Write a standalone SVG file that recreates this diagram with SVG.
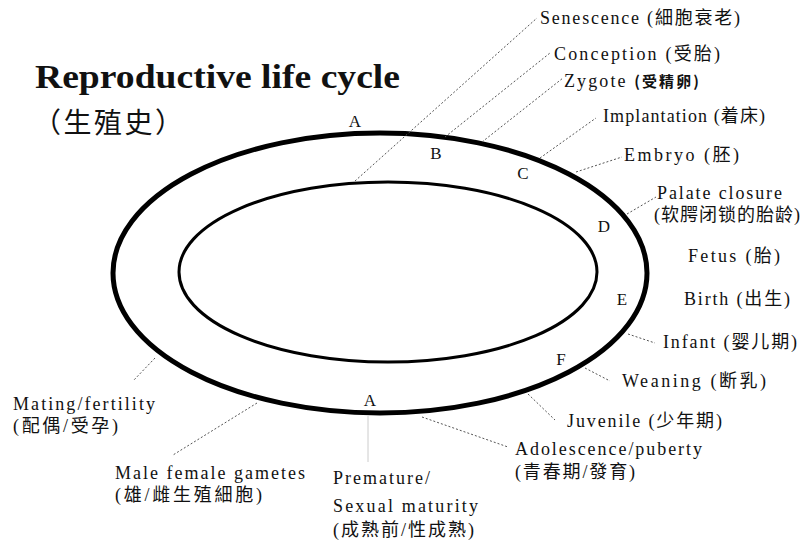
<svg xmlns="http://www.w3.org/2000/svg" width="808" height="542" viewBox="0 0 808 542">
<style>
.lbl{font-family:"Liberation Serif","Noto Sans CJK SC",serif;font-size:18px;fill:#111}
.ltr{font-family:"Liberation Serif",serif;font-size:17px;fill:#111;text-anchor:middle}
.ring{fill:none;stroke:#000}
.lead{stroke:#555;stroke-width:1;stroke-dasharray:2 2;fill:none}
.cjkb{font-family:"Noto Sans CJK SC",sans-serif;font-weight:bold}
</style>
<rect width="808" height="542" fill="#fff"/>
<g id="title">
<text x="35" y="88" font-family="Liberation Serif,serif" font-weight="bold" font-size="33" textLength="365" lengthAdjust="spacingAndGlyphs" fill="#111">Reproductive life cycle</text>
<text x="33" y="133" font-family="Noto Sans CJK SC,sans-serif" font-size="28" textLength="150" lengthAdjust="spacing" fill="#111">（生殖史）</text>
</g>
<g id="cycle">
<ellipse class="ring" cx="380" cy="273" rx="267" ry="140" stroke-width="5"/>
<ellipse class="ring" cx="388" cy="272" rx="209" ry="90" stroke-width="3"/>
<text class="ltr" x="355" y="127">A</text>
<text class="ltr" x="436" y="159">B</text>
<text class="ltr" x="523" y="179">C</text>
<text class="ltr" x="604" y="232">D</text>
<text class="ltr" x="622" y="305">E</text>
<text class="ltr" x="561" y="365">F</text>
<text class="ltr" x="370" y="406">A</text>
</g>
<g id="connectors">
<line class="lead" x1="355" y1="181" x2="537" y2="18"/>
<line class="lead" x1="445" y1="137" x2="550" y2="53"/>
<line class="lead" x1="482" y1="142" x2="563" y2="78"/>
<line class="lead" x1="540" y1="158" x2="596" y2="118"/>
<line class="lead" x1="576" y1="172" x2="622" y2="157"/>
<line class="lead" x1="627" y1="214" x2="656" y2="197"/>
<line class="lead" x1="628" y1="334" x2="655" y2="343"/>
<line class="lead" x1="585" y1="368" x2="610" y2="381"/>
<line class="lead" x1="528" y1="394" x2="555" y2="420"/>
<line class="lead" x1="422" y1="417" x2="508" y2="447"/>
<line x1="368" y1="416" x2="368" y2="462" stroke="#ccc" stroke-width="1"/>
<line class="lead" x1="257" y1="403" x2="173" y2="455"/>
<line class="lead" x1="155" y1="358" x2="133" y2="381"/>
</g>
<g id="senescence"><text class="lbl" x="540" y="24" textLength="200" lengthAdjust="spacing">Senescence (細胞衰老)</text></g>
<g id="conception"><text class="lbl" x="554" y="60" textLength="166" lengthAdjust="spacing">Conception (受胎)</text></g>
<g id="zygote"><text class="lbl" x="564" y="87" textLength="135" lengthAdjust="spacing">Zygote <tspan class="cjkb" font-size="15">(受精卵)</tspan></text></g>
<g id="implantation"><text class="lbl" x="603" y="122" textLength="162" lengthAdjust="spacing">Implantation (着床)</text></g>
<g id="embryo"><text class="lbl" x="624" y="161" textLength="115" lengthAdjust="spacing">Embryo (胚)</text></g>
<g id="palate"><text class="lbl" x="657" y="199" textLength="125" lengthAdjust="spacing">Palate closure</text>
<text class="lbl" x="654" y="221" textLength="146" lengthAdjust="spacing">(软腭闭锁的胎龄)</text></g>
<g id="fetus"><text class="lbl" x="688" y="262" textLength="92" lengthAdjust="spacing">Fetus (胎)</text></g>
<g id="birth"><text class="lbl" x="684" y="305" textLength="106" lengthAdjust="spacing">Birth (出生)</text></g>
<g id="infant"><text class="lbl" x="663" y="348" textLength="134" lengthAdjust="spacing">Infant (婴儿期)</text></g>
<g id="weaning"><text class="lbl" x="622" y="387" textLength="144" lengthAdjust="spacing">Weaning (断乳)</text></g>
<g id="juvenile"><text class="lbl" x="567" y="427" textLength="155" lengthAdjust="spacing">Juvenile (少年期)</text></g>
<g id="adolescence"><text class="lbl" x="515" y="455" textLength="187" lengthAdjust="spacing">Adolescence/puberty</text>
<text class="lbl" x="515" y="478" textLength="120" lengthAdjust="spacing">(青春期/發育)</text></g>
<g id="maturity"><text class="lbl" x="333" y="484" textLength="97" lengthAdjust="spacing">Premature/</text>
<text class="lbl" x="333" y="512" textLength="145" lengthAdjust="spacing">Sexual maturity</text>
<text class="lbl" x="333" y="536" textLength="141" lengthAdjust="spacing">(成熟前/性成熟)</text></g>
<g id="gametes"><text class="lbl" x="115" y="479" textLength="190" lengthAdjust="spacing">Male female gametes</text>
<text class="lbl" x="115" y="501" textLength="147" lengthAdjust="spacing">(雄/雌生殖細胞)</text></g>
<g id="mating"><text class="lbl" x="13" y="410" textLength="142" lengthAdjust="spacing">Mating/fertility</text>
<text class="lbl" x="13" y="432" textLength="105" lengthAdjust="spacing">(配偶/受孕)</text></g>
</svg>
